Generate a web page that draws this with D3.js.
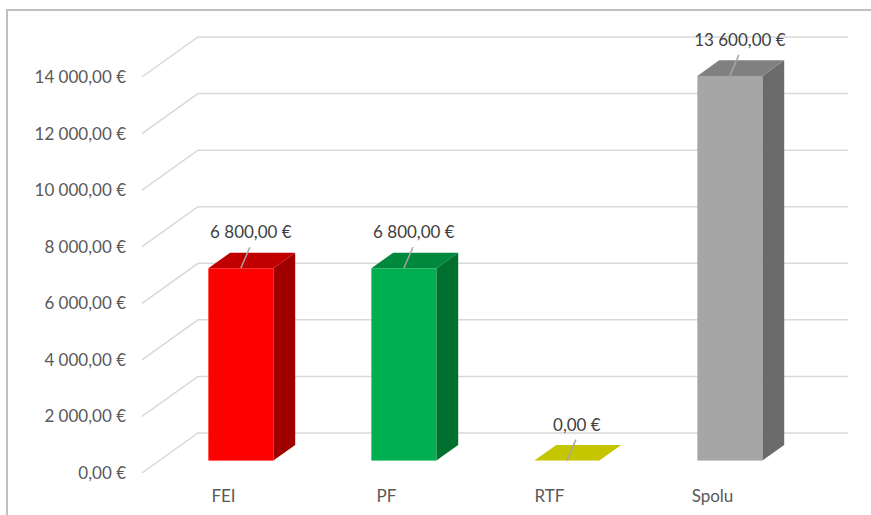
<!DOCTYPE html>
<html>
<head>
<meta charset="utf-8">
<script src="https://cdn.jsdelivr.net/npm/d3@7"></script>
<style>
  body { margin: 0; background: #fff; }
  svg text { font-family: Lato, "Open Sans", sans-serif; }
</style>
</head>
<body>
<div id="chart"></div>
<script>
// data
var categories = ["FEI", "PF", "RTF", "Spolu"];
var values = [6800, 6800, 0, 13600];
var yTicks = [0, 2000, 4000, 6000, 8000, 10000, 12000, 14000];
var frontColors = ["#ff0000", "#00b050", "#ffff00", "#a6a6a6"];
var sideColors = ["#9e0000", "#00702f", "#a3a300", "#6b6b6b"];
var topColors = ["#c00000", "#00893c", "#c6c600", "#808080"];

var width = 871, height = 515;

// 3d floor depth: z from 0 (front) to 1 (back wall)
var depthX = 56, depthY = -40;
var zFront = 0.31, zBack = 0.70;
var barW = 65;

var svg = d3.select("#chart").append("svg")
    .attr("width", width)
    .attr("height", height);

// frame (partly cut off in the original)
svg.append("path")
    .attr("d", "M7,515 V10 H880")
    .attr("fill", "none")
    .attr("stroke", "#c0c0c0")
    .attr("stroke-width", 2);

var x = d3.scaleBand()
    .domain(categories)
    .range([142, 794])
    .padding(0);

var y = d3.scaleLinear()
    .domain([0, 14000])
    .range([473, 77]);

function px(xf, z) { return xf + depthX * z; }
function py(yf, z) { return yf + depthY * z; }

var loc = d3.formatLocale({decimal: ",", thousands: " ", grouping: [3], currency: ["", " €"]});
var fmt = loc.format("$,.2f");

// gridlines: diagonal on the floor side + back wall
var grid = svg.append("g").attr("class", "grid");
grid.selectAll("path")
    .data(yTicks)
    .enter().append("path")
    .attr("d", function(d) {
        return "M" + x.range()[0] + "," + y(d) +
               " L" + px(x.range()[0], 1) + "," + py(y(d), 1) +
               " H848";
    })
    .attr("fill", "none")
    .attr("stroke", "#d9d9d9")
    .attr("stroke-width", 1.5);

// y axis labels
var yAxis = svg.append("g")
    .attr("transform", "translate(" + x.range()[0] + ",0)")
    .call(d3.axisLeft(y).tickValues(yTicks).tickSize(0).tickPadding(16).tickFormat(fmt));
yAxis.select(".domain").remove();
yAxis.selectAll("text")
    .attr("fill", "#595959")
    .style("font-size", "17px")
    .style("font-family", "Lato, sans-serif");

// x axis labels
var xAxis = svg.append("g")
    .attr("transform", "translate(0," + y(0) + ")")
    .call(d3.axisBottom(x).tickSize(0).tickPadding(17));
xAxis.select(".domain").remove();
xAxis.selectAll("text")
    .attr("fill", "#595959")
    .style("font-size", "17px")
    .style("font-family", "Lato, sans-serif");

// bars
var bars = svg.append("g").attr("class", "bars");
categories.forEach(function(c, i) {
    var x0 = x(c) + (x.bandwidth() - barW) / 2;
    var x1 = x0 + barW;
    var yb = y(0), yt = y(values[i]);
    var g = bars.append("g");

    // side face
    if (values[i] > 0) {
        g.append("path")
            .attr("d", "M" + px(x1, zFront) + "," + py(yb, zFront) +
                " L" + px(x1, zBack) + "," + py(yb, zBack) +
                " L" + px(x1, zBack) + "," + py(yt, zBack) +
                " L" + px(x1, zFront) + "," + py(yt, zFront) + "Z")
            .attr("fill", sideColors[i]);
    }
    // top face
    g.append("path")
        .attr("d", "M" + px(x0, zFront) + "," + py(yt, zFront) +
            " L" + px(x1, zFront) + "," + py(yt, zFront) +
            " L" + px(x1, zBack) + "," + py(yt, zBack) +
            " L" + px(x0, zBack) + "," + py(yt, zBack) + "Z")
        .attr("fill", topColors[i]);
    // front face
    if (values[i] > 0) {
        g.append("rect")
            .attr("x", px(x0, zFront))
            .attr("y", py(yt, zFront))
            .attr("width", barW)
            .attr("height", yb - yt)
            .attr("fill", frontColors[i]);
    }

    // data label with leader line
    var cx = px(x0 + barW / 2, zFront);
    var cy = py(yt, zFront);
    g.append("line")
        .attr("x1", cx + 9).attr("y1", cy - 21)
        .attr("x2", cx).attr("y2", cy)
        .attr("stroke", "#a6a6a6")
        .attr("stroke-width", 1.5);
    g.append("text")
        .attr("x", cx + 10)
        .attr("y", cy - 30)
        .attr("text-anchor", "middle")
        .attr("fill", "#404040")
        .style("font-size", "17px")
        .text(fmt(values[i]));
});
</script>
</body>
</html>
